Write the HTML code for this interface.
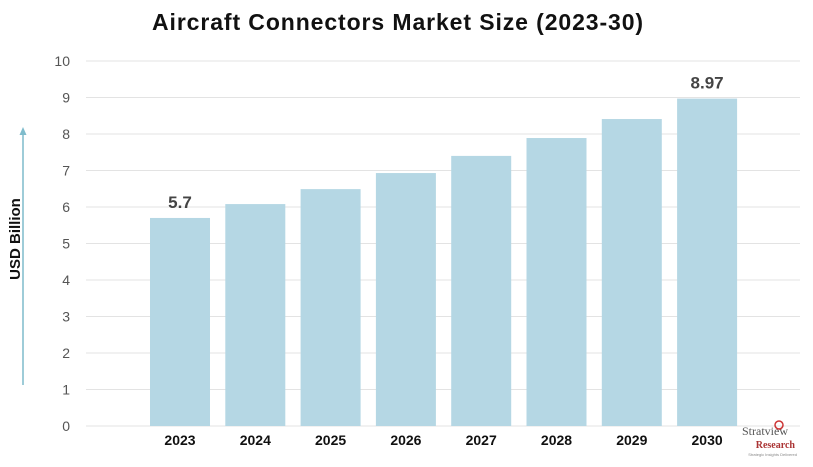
<!DOCTYPE html>
<html><head><meta charset="utf-8"><style>
body{margin:0;width:813px;height:462px;background:#fff;overflow:hidden;font-family:"Liberation Sans",sans-serif}
</style></head><body>
<svg width="813" height="462" id="c">
<text x="398" y="30" text-anchor="middle" font-size="23" font-weight="bold" letter-spacing="0.9" fill="#111">Aircraft Connectors Market Size (2023-30)</text>
<line x1="23" y1="385" x2="23" y2="134" stroke="#7fbccc" stroke-width="1.5"/>
<polygon points="23,127 19.5,135 26.5,135" fill="#7fbccc"/>
<text transform="translate(20,239) rotate(-90)" text-anchor="middle" font-size="15" font-weight="bold" fill="#111">USD Billion</text>
<g id="grid"></g><g id="bars"></g>
<g>
<text x="742" y="435" font-family="Liberation Serif,serif" font-size="12" fill="#555">Stratview</text>
<circle cx="779" cy="425" r="4" fill="none" stroke="#c33" stroke-width="1.5"/>
<text x="795" y="448" text-anchor="end" font-family="Liberation Serif,serif" font-size="10" font-weight="bold" fill="#a33">Research</text>
<text x="797" y="456" text-anchor="end" font-size="4" fill="#888">Strategic Insights Delivered</text>
</g>
</svg>
<script>
const categories=["2023","2024","2025","2026","2027","2028","2029","2030"];
const values=[5.7,6.08,6.49,6.93,7.4,7.89,8.41,8.97];
const valueLabels=["5.7","","","","","","","8.97"];
const ticks=[0,1,2,3,4,5,6,7,8,9,10];
const NS="http://www.w3.org/2000/svg";
const y=v=>426-v*36.5;
const x=i=>150+i*75.3;
const g=document.getElementById('grid'),b=document.getElementById('bars');
function mk(tag,a,p){const e=document.createElementNS(NS,tag);for(const k in a)e.setAttribute(k,a[k]);p.appendChild(e);return e;}
ticks.forEach(t=>{
 const l=mk('line',{x1:86,x2:800,y1:y(t),y2:y(t),stroke:'#e3e3e3','stroke-width':1},g);
 
 
 const tx=mk('text',{x:70,y:y(t)+5,'text-anchor':'end','font-size':14,fill:'#555'},g);
 tx.textContent=t;
 
 
});
categories.forEach((c,i)=>{
 const r=mk('rect',{x:x(i),y:y(values[i]),width:60,height:y(0)-y(values[i]),fill:'#b5d7e4'},b);
 
 
 const t=mk('text',{x:x(i)+30,y:445,'text-anchor':'middle','font-size':14,'font-weight':'bold',fill:'#111'},b);
 t.textContent=c;
 
 
 if(valueLabels[i]){
  const v=mk('text',{x:x(i)+30,y:y(values[i])-10,'text-anchor':'middle','font-size':17,'font-weight':'bold',fill:'#444'},b);
  v.textContent=valueLabels[i];
  
  
 }
});
</script>
</body></html>
